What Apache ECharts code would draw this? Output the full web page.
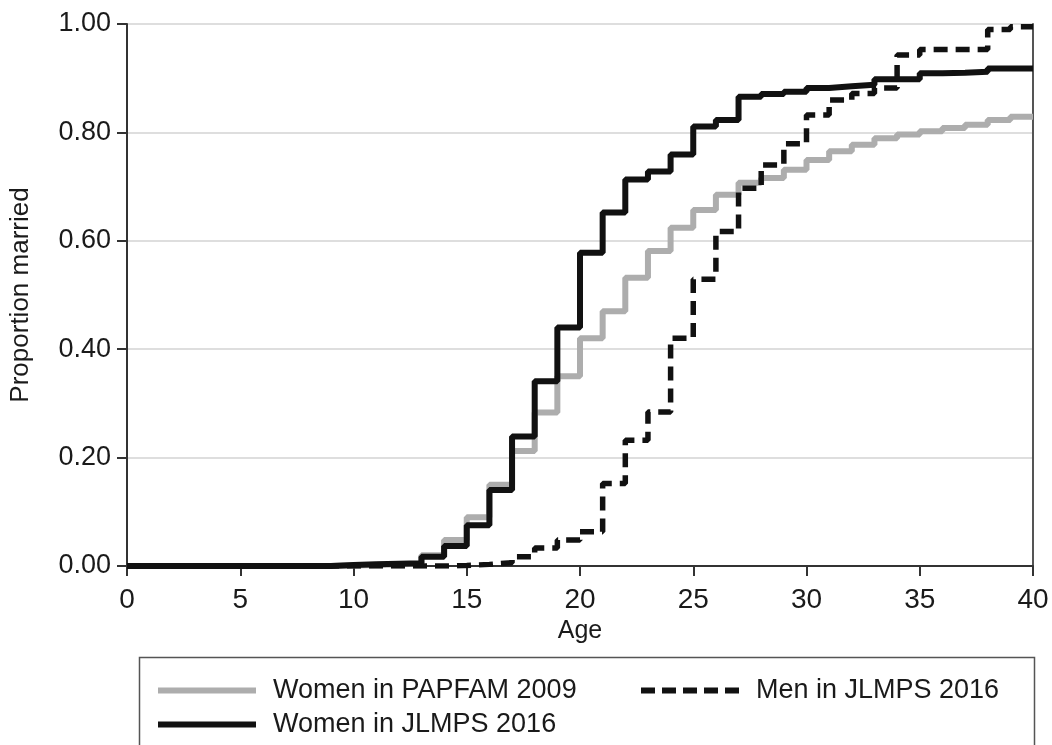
<!DOCTYPE html>
<html>
<head>
<meta charset="utf-8">
<script src="https://cdn.jsdelivr.net/npm/echarts@6/dist/echarts.min.js"></script>
<style>
html,body{margin:0;padding:0;background:#fff;}
#chart{width:1052px;height:745px;}
</style>
</head>
<body>
<div id="chart"></div>
<script>
// Ages 0..40 ; value at age a holds on [a, a+1)
const ages = [0,1,2,3,4,5,6,7,8,9,10,11,12,13,14,15,16,17,18,19,20,21,22,23,24,25,26,27,28,29,30,31,32,33,34,35,36,37,38,39,40];
const womenPapfam2009 = [0,0,0,0,0,0,0,0,0,0.001,0.002,0.003,0.004,0.02,0.048,0.09,0.15,0.212,0.283,0.35,0.42,0.47,0.532,0.581,0.624,0.657,0.685,0.707,0.716,0.731,0.749,0.765,0.777,0.789,0.796,0.802,0.808,0.814,0.823,0.829,0.829];
const womenJlmps2016 = [0,0,0,0,0,0,0,0,0,0.002,0.003,0.004,0.005,0.017,0.037,0.075,0.14,0.239,0.341,0.44,0.578,0.652,0.713,0.728,0.759,0.811,0.823,0.866,0.871,0.875,0.882,0.885,0.888,0.898,0.898,0.909,0.91,0.912,0.918,0.918,0.918];
const menJlmps2016 = [0,0,0,0,0,0,0,0,0,0,0,0,0,0,0.001,0.003,0.006,0.017,0.033,0.048,0.063,0.152,0.232,0.284,0.42,0.529,0.617,0.697,0.74,0.779,0.832,0.86,0.872,0.882,0.943,0.953,0.953,0.953,0.99,0.995,0.995];
const xTicks = [0,5,10,15,20,25,30,35,40];
const yTicks = [0,0.2,0.4,0.6,0.8,1.0];
const names = ['Women in PAPFAM 2009','Men in JLMPS 2016','Women in JLMPS 2016'];

const FONT = "'Liberation Sans', Arial, sans-serif";
const TXT = '#1a1a1a';
const pairs = arr => ages.map((a,i)=>[a, arr[i]]);

const chart = echarts.init(document.getElementById('chart'), null, {renderer:'canvas'});
const legendBase = {
  orient:'horizontal', itemWidth:98, itemHeight:14, itemGap:0,
  textStyle:{fontFamily:FONT, fontSize:27, color:TXT, padding:[0,0,0,12]},
  itemStyle:{opacity:0, borderWidth:0},
  selectedMode:false
};
chart.setOption({
  animation:false,
  backgroundColor:'#fff',
  grid:{left:126, right:19, top:24, bottom:179, containLabel:false},
  xAxis:{
    type:'value', min:0, max:40, interval:5,
    name:'Age', nameLocation:'middle', nameGap:50,
    nameTextStyle:{fontFamily:FONT, fontSize:25, color:TXT},
    axisLine:{show:true, onZero:false, lineStyle:{color:'#333', width:2}},
    axisTick:{show:true, length:10, lineStyle:{color:'#333', width:2}},
    axisLabel:{fontFamily:FONT, fontSize:28, color:TXT, margin:20},
    splitLine:{show:false}
  },
  yAxis:[{
    type:'value', min:0, max:1, interval:0.2,
    name:'Proportion married', nameLocation:'middle', nameGap:93,
    nameTextStyle:{fontFamily:FONT, fontSize:26, color:TXT},
    axisLine:{show:true, lineStyle:{color:'#333', width:2}},
    axisTick:{show:true, length:10, lineStyle:{color:'#333', width:2}},
    axisLabel:{fontFamily:FONT, fontSize:27, color:TXT, margin:16,
      formatter: v => v.toFixed(2)},
    splitLine:{show:true, lineStyle:{color:'#dedede', width:2}}
  },{
    type:'value', min:0, max:1, interval:0.2, position:'right',
    axisLine:{show:true, lineStyle:{color:'#555', width:2}},
    axisTick:{show:false}, axisLabel:{show:false}, splitLine:{show:false}
  }],
  legend:[
    Object.assign({}, legendBase, {data:[names[0]], left:150, top:672,
      lineStyle:{width:6, color:'#adadad', type:'solid'}}),
    Object.assign({}, legendBase, {data:[names[1]], left:633, top:672,
      lineStyle:{width:6, color:'#111', type:[14,7]}}),
    Object.assign({}, legendBase, {data:[names[2]], left:150, top:706,
      lineStyle:{width:6, color:'#111', type:'solid'}})
  ],
  graphic:[{
    type:'rect', left:137, top:655, silent:true,
    shape:{width:895, height:120},
    style:{fill:'none', stroke:'#555', lineWidth:1.5}
  }],
  series:[
    {name:names[0], type:'line', step:'end', data:pairs(womenPapfam2009), symbol:'none',
     lineStyle:{color:'#adadad', width:6}, itemStyle:{color:'#adadad'}, z:2},
    {name:names[2], type:'line', step:'end', data:pairs(womenJlmps2016), symbol:'none',
     lineStyle:{color:'#111', width:6}, itemStyle:{color:'#111'}, z:3},
    {name:names[1], type:'line', step:'end', data:pairs(menJlmps2016), symbol:'none',
     lineStyle:{color:'#111', width:5.5, type:[14,8]}, itemStyle:{color:'#111'}, z:4}
  ]
});
</script>
</body>
</html>
